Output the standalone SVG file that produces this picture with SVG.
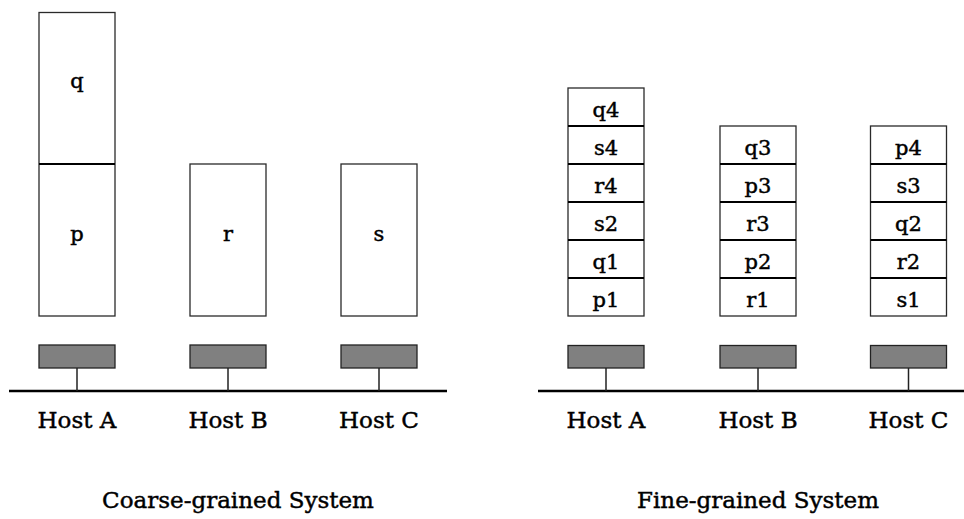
<svg xmlns="http://www.w3.org/2000/svg" width="964" height="519" viewBox="0 0 964 519">
  <style>
    .box { fill: #ffffff; stroke: #2a2a2a; stroke-width: 1.3; }
    .div { stroke: #000000; stroke-width: 2; }
    .nic { fill: #808080; stroke: #222222; stroke-width: 1.3; }
    .stem { stroke: #222222; stroke-width: 1.5; }
    .net { stroke: #000000; stroke-width: 2.6; }
    text { font-family: "DejaVu Serif", "Liberation Serif", serif; fill: #000000; stroke: #000000; stroke-width: 0.45; text-anchor: middle; }
    .cell { font-size: 21px; }
    .host { font-size: 23px; }
    .cap { font-size: 23px; }
  </style>

  <!-- Coarse-grained system -->
  <g id="coarse-host-a">
    <rect class="box" x="39" y="12.5" width="76" height="303.5"/>
    <line class="div" x1="39" y1="164" x2="115" y2="164"/>
    <text class="cell" x="77" y="88">q</text>
    <text class="cell" x="77" y="241">p</text>
    <rect class="nic" x="39" y="345" width="76" height="23"/>
    <text class="host" x="77" y="428">Host A</text>
  </g>
  <g id="coarse-host-b">
    <rect class="box" x="190" y="164" width="76" height="152"/>
    <text class="cell" x="228" y="241">r</text>
    <rect class="nic" x="190" y="345" width="76" height="23"/>
    <text class="host" x="228" y="428">Host B</text>
  </g>
  <g id="coarse-host-c">
    <rect class="box" x="341" y="164" width="76" height="152"/>
    <text class="cell" x="379" y="241">s</text>
    <rect class="nic" x="341" y="345" width="76" height="23"/>
    <text class="host" x="379" y="428">Host C</text>
  </g>

  <!-- Fine-grained system -->
  <g id="fine-host-a">
    <rect class="box" x="568" y="88" width="76" height="228"/>
    <line class="div" x1="568" y1="126" x2="644" y2="126"/>
    <line class="div" x1="568" y1="164" x2="644" y2="164"/>
    <line class="div" x1="568" y1="202" x2="644" y2="202"/>
    <line class="div" x1="568" y1="240" x2="644" y2="240"/>
    <line class="div" x1="568" y1="278" x2="644" y2="278"/>
    <text class="cell" x="606" y="117">q4</text>
    <text class="cell" x="606" y="155">s4</text>
    <text class="cell" x="606" y="193">r4</text>
    <text class="cell" x="606" y="231">s2</text>
    <text class="cell" x="606" y="269">q1</text>
    <text class="cell" x="606" y="307">p1</text>
    <rect class="nic" x="568" y="345.5" width="76" height="22.5"/>
    <text class="host" x="606" y="428">Host A</text>
  </g>
  <g id="fine-host-b">
    <rect class="box" x="720" y="126" width="76" height="190"/>
    <line class="div" x1="720" y1="164" x2="796" y2="164"/>
    <line class="div" x1="720" y1="202" x2="796" y2="202"/>
    <line class="div" x1="720" y1="240" x2="796" y2="240"/>
    <line class="div" x1="720" y1="278" x2="796" y2="278"/>
    <text class="cell" x="758" y="155">q3</text>
    <text class="cell" x="758" y="193">p3</text>
    <text class="cell" x="758" y="231">r3</text>
    <text class="cell" x="758" y="269">p2</text>
    <text class="cell" x="758" y="307">r1</text>
    <rect class="nic" x="720" y="345.5" width="76" height="22.5"/>
    <text class="host" x="758" y="428">Host B</text>
  </g>
  <g id="fine-host-c">
    <rect class="box" x="870.5" y="126" width="76" height="190"/>
    <line class="div" x1="870.5" y1="164" x2="946.5" y2="164"/>
    <line class="div" x1="870.5" y1="202" x2="946.5" y2="202"/>
    <line class="div" x1="870.5" y1="240" x2="946.5" y2="240"/>
    <line class="div" x1="870.5" y1="278" x2="946.5" y2="278"/>
    <text class="cell" x="908.5" y="155">p4</text>
    <text class="cell" x="908.5" y="193">s3</text>
    <text class="cell" x="908.5" y="231">q2</text>
    <text class="cell" x="908.5" y="269">r2</text>
    <text class="cell" x="908.5" y="307">s1</text>
    <rect class="nic" x="870.5" y="345.5" width="76" height="22.5"/>
    <text class="host" x="908.5" y="428">Host C</text>
  </g>

  <!-- Network buses and host attachments -->
  <g id="connectors">
    <line class="net" x1="9" y1="391" x2="447" y2="391"/>
    <line class="stem" x1="77" y1="368" x2="77" y2="391"/>
    <line class="stem" x1="228" y1="368" x2="228" y2="391"/>
    <line class="stem" x1="379" y1="368" x2="379" y2="391"/>
    <line class="net" x1="538" y1="391" x2="964" y2="391"/>
    <line class="stem" x1="606" y1="368" x2="606" y2="391"/>
    <line class="stem" x1="758" y1="368" x2="758" y2="391"/>
    <line class="stem" x1="908.5" y1="368" x2="908.5" y2="391"/>
  </g>

  <g id="captions">
    <text class="cap" x="238" y="508">Coarse-grained System</text>
    <text class="cap" x="758" y="508">Fine-grained System</text>
  </g>
</svg>
